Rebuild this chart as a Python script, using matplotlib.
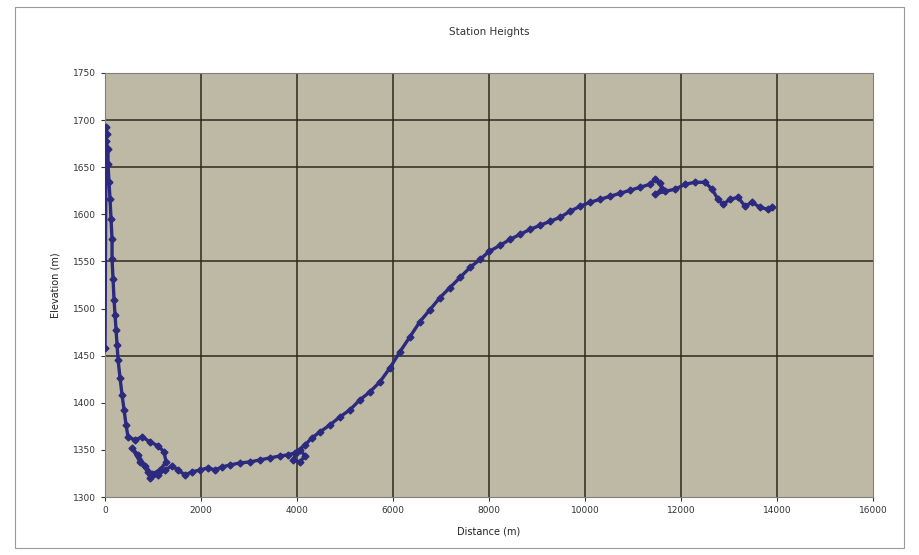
import matplotlib
matplotlib.use('Agg')
import matplotlib.pyplot as plt
from matplotlib.patches import Rectangle

# distance along the route (m) and elevation (m)
distance = [0, 21, 42, 21, 62, 62, 83, 104, 125, 146, 146, 167, 187, 208, 229, 250,
            271, 312, 354, 396, 437, 479, 625, 771, 937, 1104, 1229, 1271, 1146, 979,
            833, 687, 562, 729, 896,
            937, 1104, 1250, 1396, 1521, 1667, 1812, 1979, 2146, 2292, 2437, 2604,
            2812, 3021, 3229, 3437, 3646, 3812, 3958, 4062, 4167, 4062, 3917, 4000,
            4167, 4312, 4479, 4687, 4896, 5104, 5312, 5521, 5729, 5937, 6146, 6354,
            6562, 6771, 6979, 7187, 7396, 7604, 7812, 8000, 8229, 8437, 8646, 8854,
            9062, 9271, 9479, 9687, 9896, 10104, 10312, 10521, 10729, 10937, 11146,
            11354, 11458, 11562, 11604, 11458, 11667, 11875, 12083, 12292, 12500,
            12646, 12771, 12875, 13021, 13187, 13333, 13479, 13646, 13812, 13896]
elevation = [1458.5, 1692.6, 1685.1, 1677.7, 1669.1, 1653.2, 1634.0, 1616.0, 1594.7,
             1573.4, 1552.1, 1530.9, 1509.6, 1493.6, 1477.7, 1461.7, 1445.7, 1426.6,
             1408.5, 1392.6, 1376.6, 1363.8, 1360.6, 1363.8, 1358.5, 1354.3, 1347.9,
             1337.2, 1328.7, 1324.5, 1333.0, 1344.7, 1352.1, 1337.2, 1326.6,
             1320.2, 1323.4, 1328.7, 1333.0, 1328.7, 1323.4, 1326.6, 1328.7, 1330.9,
             1328.7, 1331.9, 1334.0, 1336.2, 1337.2, 1339.4, 1341.5, 1343.6, 1344.7,
             1346.8, 1350.0, 1343.6, 1337.2, 1339.4, 1347.9, 1355.3, 1362.8, 1369.1,
             1376.6, 1385.1, 1392.6, 1403.2, 1411.7, 1422.3, 1437.2, 1454.3, 1470.2,
             1486.2, 1498.9, 1511.7, 1522.3, 1533.0, 1543.6, 1552.1, 1560.6, 1567.0,
             1573.4, 1578.7, 1584.0, 1588.3, 1592.6, 1596.8, 1603.2, 1608.5, 1612.8,
             1615.9, 1619.1, 1622.3, 1625.5, 1628.7, 1631.9, 1637.2, 1633.0, 1626.6,
             1621.3, 1624.5, 1626.6, 1631.9, 1634.0, 1634.0, 1626.6, 1615.9, 1610.6,
             1615.9, 1618.1, 1608.5, 1612.8, 1607.4, 1605.3, 1607.4]

x_ticks = [0, 2000, 4000, 6000, 8000, 10000, 12000, 14000, 16000]
y_ticks = [1300, 1350, 1400, 1450, 1500, 1550, 1600, 1650, 1700, 1750]
grid_rows = [1450, 1550, 1650, 1700]

fig = plt.figure(figsize=(9.19, 5.55), dpi=100)
fig.patches.append(Rectangle((0.016, 0.012), 0.968, 0.975, transform=fig.transFigure,
                             fill=False, edgecolor='#9a9a9a', linewidth=0.8))
ax = fig.add_axes([0.1143, 0.1045, 0.8357, 0.764])
ax.set_facecolor('#bdb9a5')

for gx in x_ticks[1:-1]:
    ax.axvline(gx, color='#2a2a1c', linewidth=1.1, zorder=1)
for gy in grid_rows:
    ax.axhline(gy, color='#2a2a1c', linewidth=1.1, zorder=1)

ax.plot(distance, elevation, color='#2c2a7e', linewidth=2.4, marker='D',
        markersize=3.5, zorder=3)

ax.set_xlim(0, 16000)
ax.set_ylim(1300, 1750)
ax.set_xticks(x_ticks)
ax.set_yticks(y_ticks)
ax.tick_params(labelsize=6.5, colors='#333333', length=3)
for s in ax.spines.values():
    s.set_color('#808080')
    s.set_linewidth(0.8)

ax.set_title('Station Heights', fontsize=7.5, color='#333333', pad=27)
ax.set_xlabel('Distance (m)', fontsize=7, color='#222222', labelpad=8)
ax.set_ylabel('Elevation (m)', fontsize=7, color='#222222', labelpad=9)

fig.savefig('out.png', dpi=100)
